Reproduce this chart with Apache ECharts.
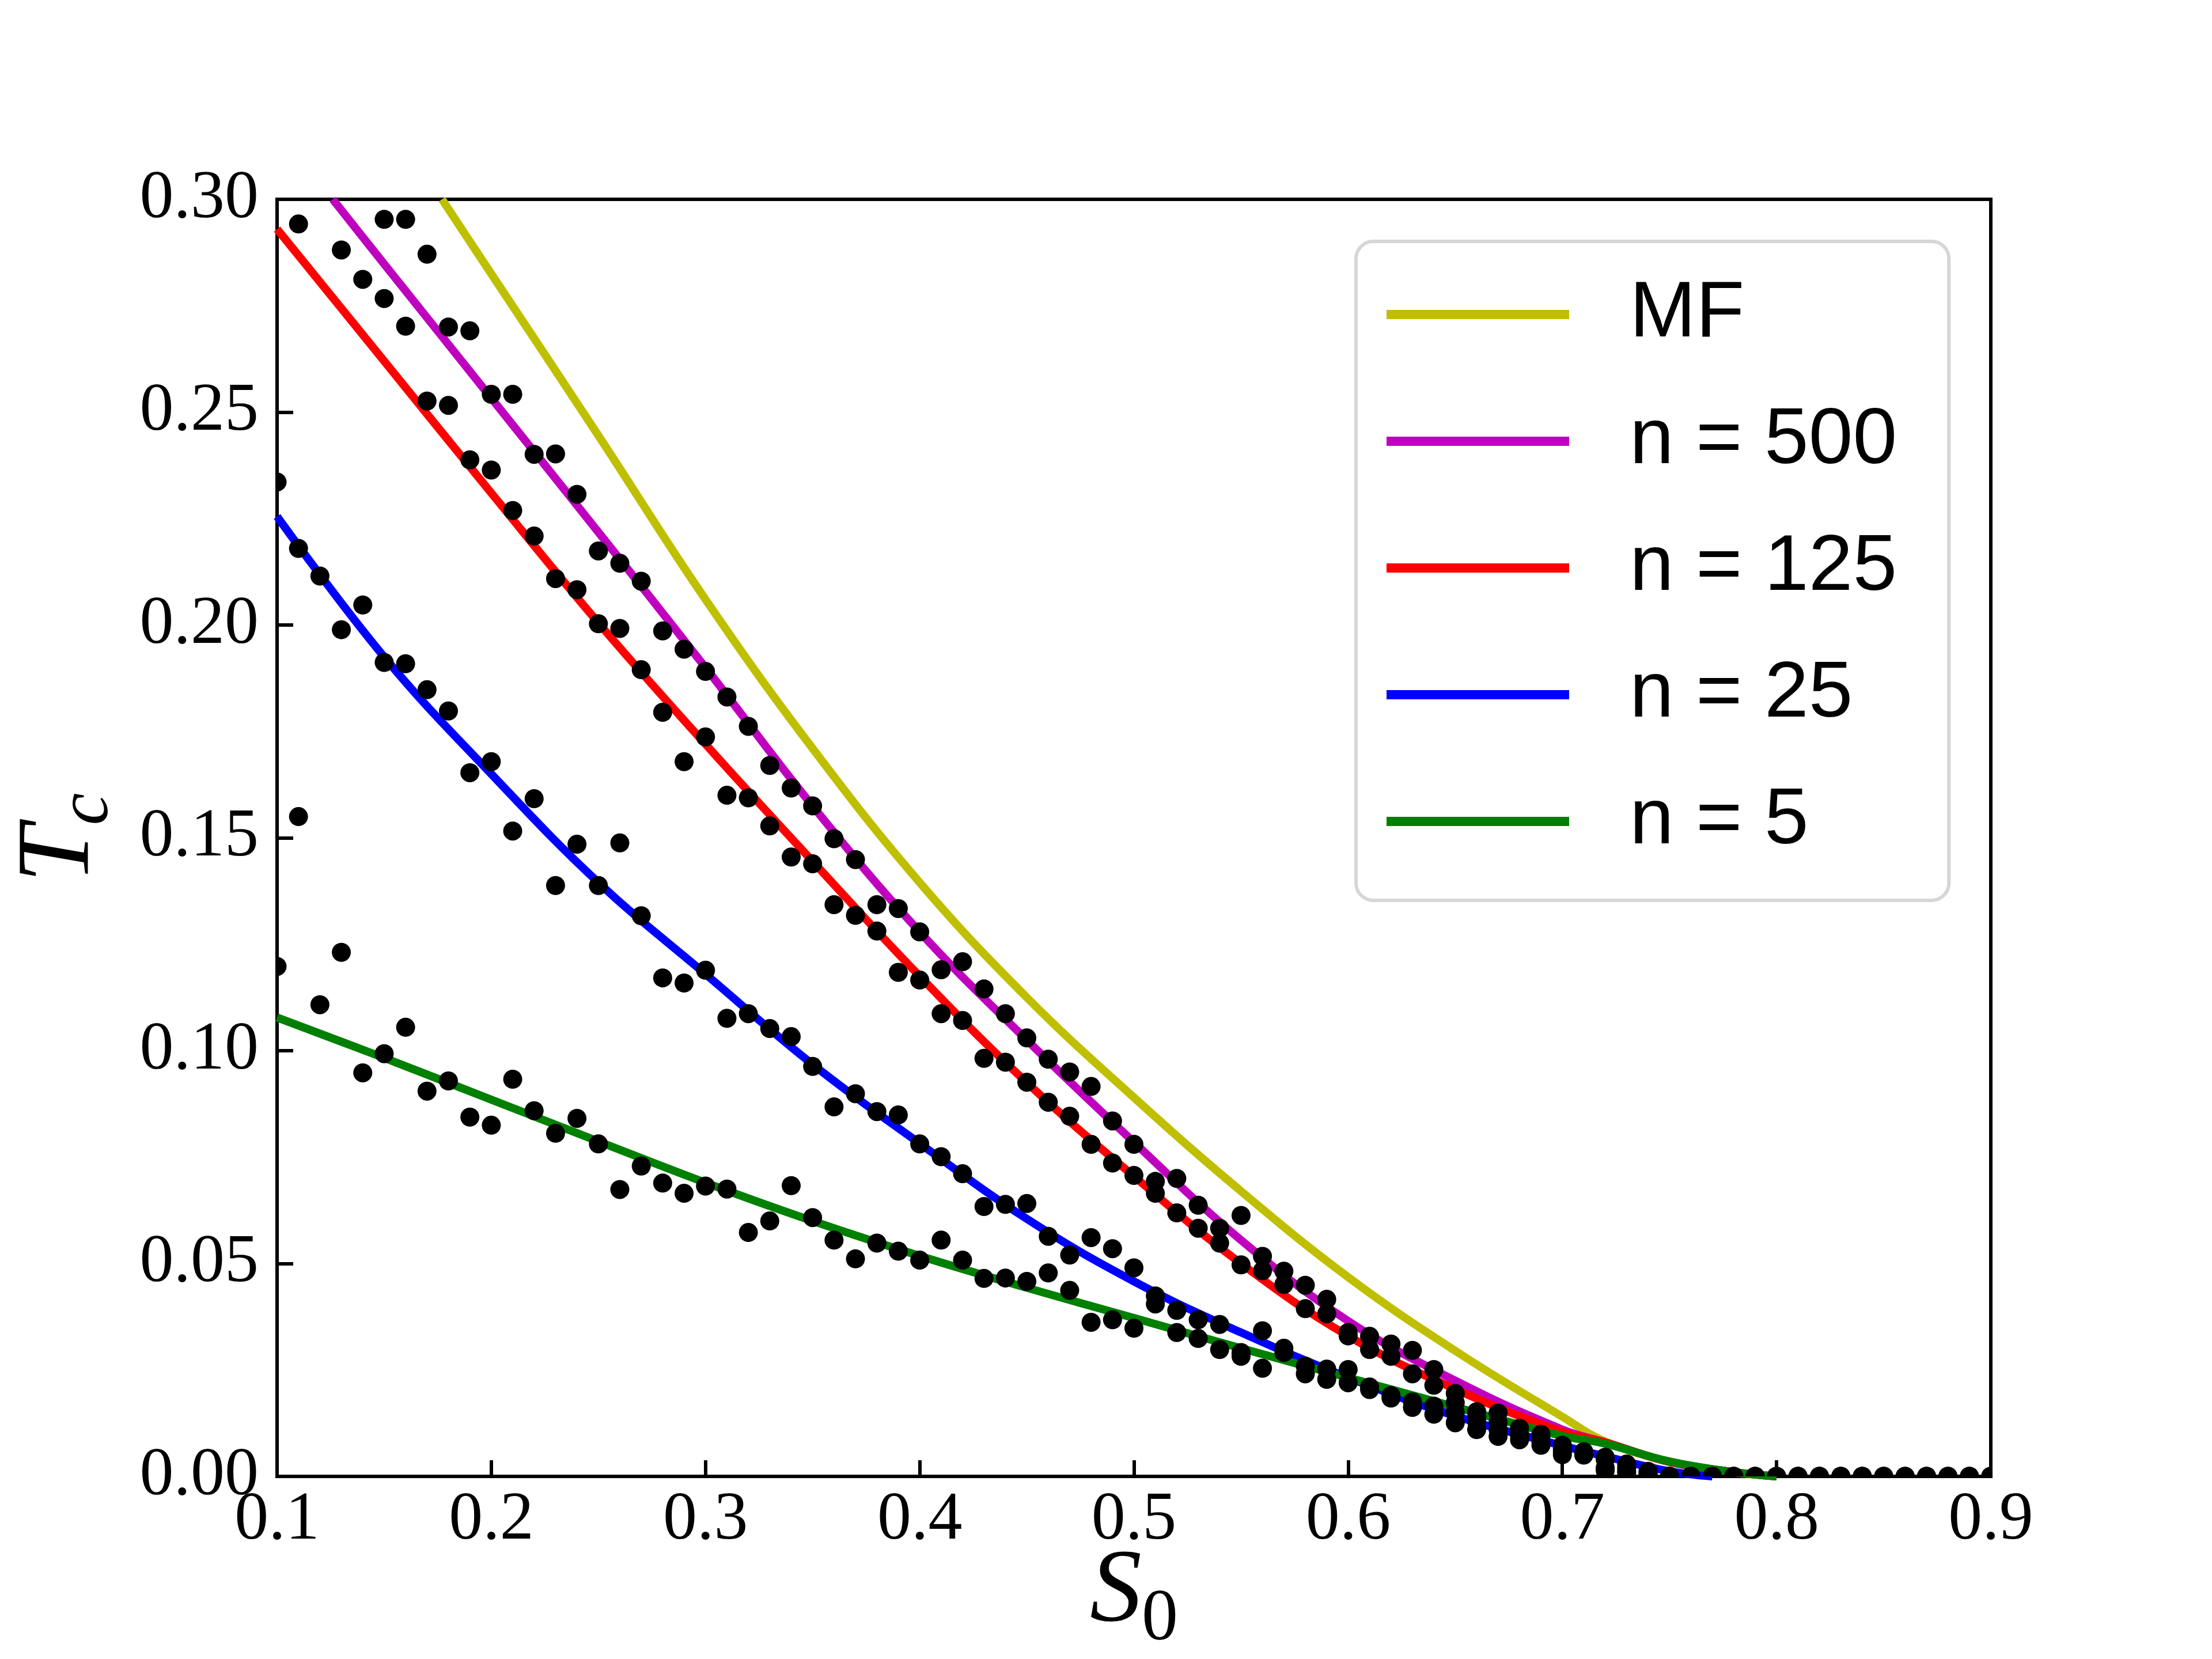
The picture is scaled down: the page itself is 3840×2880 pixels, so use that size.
<!DOCTYPE html>
<html>
<head>
<meta charset="utf-8">
<title>Tc vs S0</title>
<script src="https://cdn.jsdelivr.net/npm/echarts@6.0.0/dist/echarts.min.js"></script>
<style>html,body{margin:0;padding:0;background:#fff}</style>
</head>
<body>
<div id="main" style="width:3840px;height:2880px"></div>
<script>
// curves (at a few S0 values)
var mfS0  = [0.177, 0.20, 0.25, 0.30, 0.35, 0.40, 0.45, 0.50, 0.55, 0.60, 0.65, 0.70, 0.72, 0.75, 0.78, 0.80];
var mfTc  = [0.300, 0.2825, 0.2445, 0.2060, 0.1710, 0.1395, 0.1125, 0.0890, 0.0670, 0.0468, 0.0295, 0.0140, 0.0082, 0.0035, 0.0010, 0];
var n500S0 = [0.126, 0.15, 0.20, 0.25, 0.30, 0.35, 0.40, 0.45, 0.50, 0.55, 0.60, 0.65, 0.70, 0.72, 0.75, 0.78, 0.80];
var n500Tc = [0.300, 0.2848, 0.2533, 0.2218, 0.1900, 0.1575, 0.1279, 0.1025, 0.0785, 0.0555, 0.0365, 0.0225, 0.0110, 0.0080, 0.0034, 0.0010, 0];
var n125S0 = [0.10, 0.15, 0.20, 0.25, 0.30, 0.35, 0.40, 0.45, 0.50, 0.55, 0.60, 0.65, 0.70, 0.72, 0.75, 0.78, 0.80];
var n125Tc = [0.293, 0.262, 0.231, 0.2005, 0.1720, 0.1445, 0.1175, 0.0925, 0.0705, 0.0500, 0.0330, 0.0205, 0.0105, 0.0080, 0.0034, 0.0010, 0];
var n25S0 = [0.10, 0.15, 0.20, 0.25, 0.30, 0.35, 0.40, 0.45, 0.50, 0.55, 0.60, 0.65, 0.70, 0.72, 0.75, 0.77];
var n25Tc = [0.2255, 0.1925, 0.1650, 0.1395, 0.1180, 0.0968, 0.0782, 0.0605, 0.0458, 0.0338, 0.0232, 0.0142, 0.0072, 0.0047, 0.0012, 0];
var n5S0 = [0.10, 0.15, 0.20, 0.25, 0.30, 0.35, 0.40, 0.45, 0.50, 0.55, 0.60, 0.65, 0.70, 0.72, 0.75, 0.78, 0.80];
var n5Tc = [0.1078, 0.0983, 0.0885, 0.0787, 0.0690, 0.0600, 0.0518, 0.0443, 0.0372, 0.0301, 0.0232, 0.0163, 0.0095, 0.0077, 0.0035, 0.0010, 0];

// simulation points, one per S0 and per n (null = off the plot)
var dotS0 = [
  0.10,0.11,0.12,0.13,0.14,0.15,0.16,0.17,0.18,0.19,
  0.20,0.21,0.22,0.23,0.24,0.25,0.26,0.27,0.28,0.29,
  0.30,0.31,0.32,0.33,0.34,0.35,0.36,0.37,0.38,0.39,
  0.40,0.41,0.42,0.43,0.44,0.45,0.46,0.47,0.48,0.49,
  0.50,0.51,0.52,0.53,0.54,0.55,0.56,0.57,0.58,0.59,
  0.60,0.61,0.62,0.63,0.64,0.65,0.66,0.67,0.68,0.69,
  0.70,0.71,0.72,0.73,0.74,0.75,0.76,0.77,0.78,0.79,
  0.80,0.81,0.82,0.83,0.84,0.85,0.86,0.87,0.88,0.89,
  0.90];
var dot500 = [
  null,null,null,null,null,0.2953,0.2953,0.2871,0.2700,0.2691,
  0.2542,0.2542,0.2401,0.2402,0.2307,0.2174,0.2145,0.2103,0.1986,0.1943,
  0.1891,0.1831,0.1762,0.1670,0.1617,0.1575,0.1498,0.1449,0.1343,0.1334,
  0.1279,0.1190,0.1209,0.1145,0.1087,0.1030,0.0980,0.0950,0.0916,0.0835,
  0.0780,0.0693,0.0700,0.0637,0.0583,0.0613,0.0517,0.0482,0.0449,0.0416,
  0.0338,0.0329,0.0311,0.0296,0.0251,0.0195,0.0152,0.0149,0.0113,0.0099,
  0.0073,0.0058,0.0045,0.0029,0.0012,0,0,0,0,0,
  0,0,0,0,0,0,0,0,0,0,
  0];
var dot125 = [
  null,0.2942,null,0.2881,0.2812,0.2767,0.2702,0.2526,0.2516,0.2388,
  0.2364,0.2269,0.2209,0.2109,0.2083,0.2003,0.1992,0.1895,0.1795,0.1679,
  0.1737,0.1600,0.1594,0.1528,0.1455,0.1439,0.1343,0.1318,0.1281,0.1184,
  0.1166,0.1087,0.1071,0.0982,0.0973,0.0926,0.0879,0.0846,0.0780,0.0736,
  0.0707,0.0665,0.0619,0.0583,0.0548,0.0497,0.0483,0.0451,0.0394,0.0382,
  0.0330,0.0298,0.0282,0.0241,0.0214,0.0173,0.0140,0.0126,0.0100,0.0088,
  0.0065,0.0055,0.0040,0.0020,0.0008,0,0,0,0,0,
  0,0,0,0,0,0,0,0,0,0,
  0];
var dot25 = [
  0.2336,0.2180,0.2115,0.1989,0.2047,0.1912,0.1909,0.1848,0.1798,0.1653,
  0.1679,0.1516,0.1592,0.1388,0.1485,0.1388,0.1488,0.1317,0.1171,0.1159,
  0.1189,0.1076,0.1087,0.1052,0.1033,0.0963,0.0868,0.0899,0.0857,0.0849,
  0.0781,0.0751,0.0711,0.0634,0.0639,0.0641,0.0564,0.0520,0.0561,0.0535,
  0.0490,0.0424,0.0390,0.0368,0.0357,0.0291,0.0342,0.0301,0.0259,0.0252,
  0.0251,0.0210,0.0190,0.0175,0.0165,0.0150,0.0129,0.0110,0.0095,0.0080,
  0.0058,0.0052,0.0020,0.0012,0.0004,0,0,0,0,0,
  0,0,0,0,0,0,0,0,0,0,
  0];
var dot5 = [
  0.1198,0.1550,0.1108,0.1231,0.0948,0.0993,0.1055,0.0905,0.0929,0.0844,
  0.0825,0.0933,0.0859,0.0806,0.0841,0.0781,0.0674,0.0729,0.0689,0.0665,
  0.0682,0.0675,0.0573,0.0600,0.0683,0.0608,0.0555,0.0511,0.0548,0.0529,
  0.0508,0.0555,0.0508,0.0465,0.0466,0.0458,0.0478,0.0437,0.0362,0.0368,
  0.0348,0.0405,0.0338,0.0324,0.0298,0.0282,0.0254,0.0291,0.0241,0.0228,
  0.0220,0.0204,0.0184,0.0162,0.0146,0.0126,0.0110,0.0094,0.0086,0.0073,
  0.0051,0.0050,0.0014,0.0009,0,0,0,0,0,0,
  0,0,0,0,0,0,0,0,0,0,
  0];

var xTicks = [0.1, 0.9, 0.1];   // min, max, step
var yTicks = [0, 0.30, 0.05];

function pairs(xs, ys) {
  var out = [];
  for (var i = 0; i < xs.length; i++) {
    if (ys[i] != null) out.push([xs[i], ys[i]]);
  }
  return out;
}

var dots = [];
[dot500, dot125, dot25, dot5].forEach(function (arr) {
  dots = dots.concat(pairs(dotS0, arr));
});

function curve(name, color, xs, ys) {
  return {
    name: name, type: 'line', data: pairs(xs, ys),
    showSymbol: false, smooth: 0.4,
    lineStyle: { color: color, width: 14 }, itemStyle: { color: color },
    z: 2
  };
}

var serif = 'Liberation Serif';
var chart = echarts.init(document.getElementById('main'));
var option = {
  animation: false,
  backgroundColor: '#fff',
  grid: {
    left: 481, right: 384, top: 346, bottom: 317,
    show: true, borderColor: '#000', borderWidth: 6,
    outerBoundsMode: 'none'
  },
  legend: {
    orient: 'vertical', left: 2354, top: 419,
    data: ['MF', 'n = 500', 'n = 125', 'n = 25', 'n = 5'],
    icon: 'rect', itemWidth: 317, itemHeight: 16, itemGap: 70,
    padding: [52, 90, 62, 53],
    backgroundColor: '#fff', borderColor: '#d6d6d6', borderWidth: 6, borderRadius: 30,
    textStyle: {
      fontFamily: 'Liberation Sans', fontSize: 138, color: '#000',
      lineHeight: 150, padding: [0, 0, 0, 100]
    }
  },
  xAxis: {
    type: 'value', min: xTicks[0], max: xTicks[1], interval: xTicks[2],
    name: '{i|S}{s|0}', nameLocation: 'middle', nameGap: 113, nameMoveOverlap: false,
    nameTextStyle: {
      color: '#000',
      rich: {
        i: { fontFamily: serif, fontStyle: 'italic', fontSize: 180, lineHeight: 180, color: '#000' },
        s: { fontFamily: serif, fontSize: 126, lineHeight: 126, padding: [94, 0, 0, 0], color: '#000' }
      }
    },
    axisLine: { lineStyle: { color: '#000', width: 6 } },
    axisTick: { inside: true, length: 28, lineStyle: { color: '#000', width: 6 } },
    axisLabel: {
      margin: 18, fontFamily: serif, fontSize: 118, color: '#000',
      showMinLabel: true, showMaxLabel: true,
      formatter: function (v) { return v.toFixed(1); }
    },
    splitLine: { show: false }
  },
  yAxis: {
    type: 'value', min: yTicks[0], max: yTicks[1], interval: yTicks[2],
    name: '{i|T}{s|c}', nameLocation: 'middle', nameGap: 285, nameMoveOverlap: false,
    nameTextStyle: {
      color: '#000',
      rich: {
        i: { fontFamily: serif, fontStyle: 'italic', fontSize: 180, lineHeight: 180, color: '#000' },
        s: { fontFamily: serif, fontStyle: 'italic', fontSize: 126, lineHeight: 126, padding: [94, 0, 0, 0], color: '#000' }
      }
    },
    axisLine: { lineStyle: { color: '#000', width: 6 } },
    axisTick: { inside: true, length: 28, lineStyle: { color: '#000', width: 6 } },
    axisLabel: {
      margin: 32, fontFamily: serif, fontSize: 118, color: '#000',
      showMinLabel: true, showMaxLabel: true,
      formatter: function (v) { return v.toFixed(2); }
    },
    splitLine: { show: false }
  },
  series: [
    curve('MF', '#bfbf00', mfS0, mfTc),
    curve('n = 500', '#bf00bf', n500S0, n500Tc),
    curve('n = 125', '#ff0000', n125S0, n125Tc),
    curve('n = 25', '#0000ff', n25S0, n25Tc),
    curve('n = 5', '#008000', n5S0, n5Tc),
    {
      name: 'sim', type: 'custom', data: dots, clip: true, z: 3,
      encode: { x: 0, y: 1 },
      renderItem: function (params, api) {
        var p = api.coord([api.value(0), api.value(1)]);
        return { type: 'circle', shape: { cx: p[0], cy: p[1], r: 16.5 }, style: { fill: '#000' } };
      }
    }
  ]
};
chart.setOption(option);
</script>
</body>
</html>
